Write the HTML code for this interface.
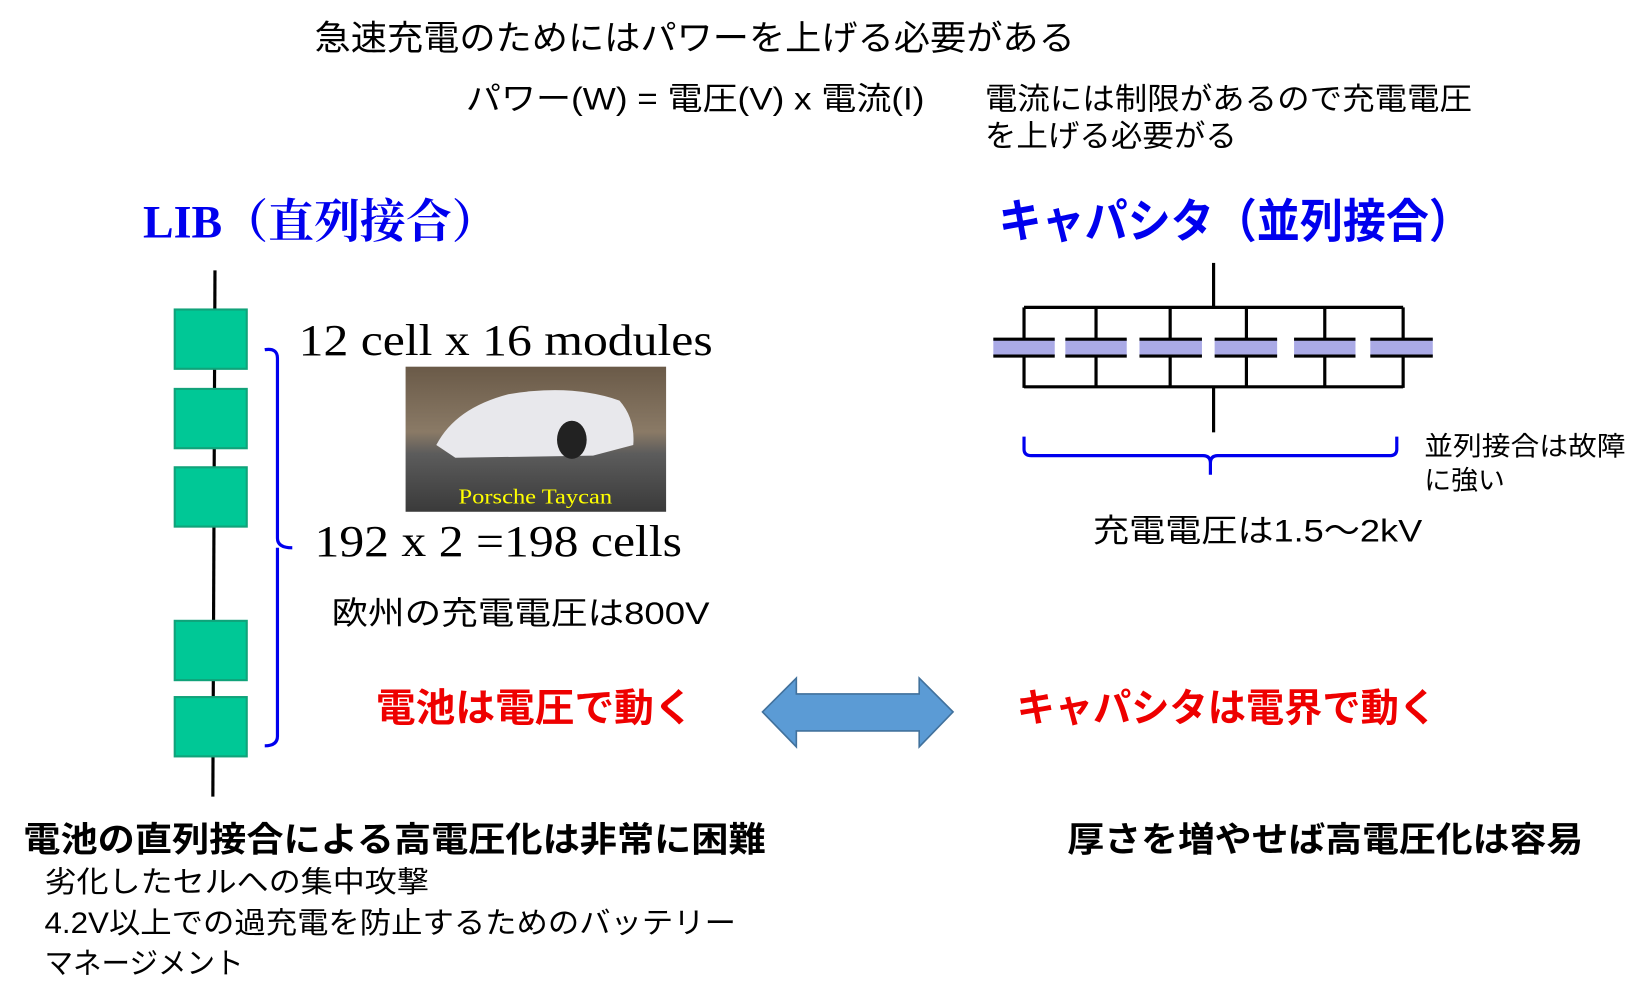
<!DOCTYPE html>
<html><head><meta charset="utf-8"><style>
html,body{margin:0;padding:0;background:#fff;width:1652px;height:996px;overflow:hidden}
svg{display:block}
.jp{font-family:"Liberation Sans","Noto Sans CJK JP",sans-serif}
.se{font-family:"Liberation Serif","Noto Serif CJK SC",serif}
</style></head><body>
<svg width="1652" height="996" viewBox="0 0 1560 940" xmlns="http://www.w3.org/2000/svg">
<defs>
<linearGradient id="bg" x1="0" y1="0" x2="0" y2="1">
<stop offset="0" stop-color="#6a5a48"/><stop offset="0.45" stop-color="#8a7a66"/><stop offset="0.6" stop-color="#5c5c5c"/><stop offset="1" stop-color="#3a3a3a"/>
</linearGradient>
</defs>
<g class="jp" fill="#000">
<text x="297" y="47" font-size="33" textLength="718" lengthAdjust="spacingAndGlyphs">急速充電のためにはパワーを上げる必要がある</text>
<text x="440" y="103" font-size="30" textLength="433" lengthAdjust="spacingAndGlyphs">パワー(W) = 電圧(V) x 電流(I)</text>
<text x="930" y="103" font-size="29" textLength="460" lengthAdjust="spacingAndGlyphs">電流には制限があるので充電電圧</text>
<text x="930" y="138" font-size="29" textLength="238" lengthAdjust="spacingAndGlyphs">を上げる必要がる</text>
</g>
<text x="135" y="224" font-size="44" font-weight="bold" fill="#0000ee" class="se" textLength="335" lengthAdjust="spacingAndGlyphs">LIB（直列接合）</text>
<text x="943" y="224" font-size="44" font-weight="bold" fill="#0000ee" class="jp" textLength="447" lengthAdjust="spacingAndGlyphs">キャパシタ（並列接合）</text>
<!-- LIB chain -->
<line x1="203" y1="255" x2="201" y2="752" stroke="#000" stroke-width="3"/>
<g fill="#00c896" stroke="#10a37a" stroke-width="2">
<rect x="165" y="292" width="68" height="56"/>
<rect x="165" y="367" width="68" height="56"/>
<rect x="165" y="441" width="68" height="56"/>
<rect x="165" y="586" width="68" height="56"/>
<rect x="165" y="658" width="68" height="56"/>
</g>
<path d="M250 330 Q262 328 262 338 L262 508 Q262 517 276 517 M262 517 Q262 526 262 530 L262 695 Q262 704 250 704" fill="none" stroke="#0000ee" stroke-width="3"/>
<g class="se" fill="#000">
<text x="282" y="335" font-size="42" textLength="391" lengthAdjust="spacingAndGlyphs">12 cell x 16 modules</text>
<text x="297" y="525" font-size="42" textLength="347" lengthAdjust="spacingAndGlyphs">192 x 2 =198 cells</text>
</g>
<rect x="383" y="346" width="246" height="137" fill="url(#bg)"/>
<path d="M412 420 Q430 385 480 372 Q540 362 585 378 Q600 395 598 420 L560 430 L430 432 Z" fill="#e8e8ec"/>
<ellipse cx="540" cy="415" rx="14" ry="18" fill="#222"/>
<text x="433" y="475" font-size="20" fill="#ffff00" class="se" textLength="145" lengthAdjust="spacingAndGlyphs">Porsche  Taycan</text>
<text x="313" y="589" font-size="30" class="jp" textLength="357" lengthAdjust="spacingAndGlyphs">欧州の充電電圧は800V</text>
<text x="355" y="681" font-size="37" font-weight="bold" fill="#ee0000" class="jp" textLength="300" lengthAdjust="spacingAndGlyphs">電池は電圧で動く</text>
<text x="960" y="681" font-size="37" font-weight="bold" fill="#ee0000" class="jp" textLength="397" lengthAdjust="spacingAndGlyphs">キャパシタは電界で動く</text>
<polygon points="720,672 752,640 752,655 868,655 868,640 900,672 868,705 868,690 752,690 752,705" fill="#5b9bd5" stroke="#41719c" stroke-width="1.5"/>
<!-- capacitors -->
<g stroke="#000" stroke-width="3" fill="none">
<line x1="1146" y1="248" x2="1146" y2="290"/>
<line x1="967" y1="290" x2="1325" y2="290"/>
<line x1="967" y1="365" x2="1325" y2="365"/>
<line x1="1146" y1="365" x2="1146" y2="408"/>
</g>
<g fill="#aaaae6">
<rect x="938" y="320" width="58" height="16"/><rect x="1006" y="320" width="58" height="16"/><rect x="1076" y="320" width="59" height="16"/><rect x="1147" y="320" width="59" height="16"/><rect x="1222" y="320" width="58" height="16"/><rect x="1294" y="320" width="59" height="16"/>
</g>
<g stroke="#000" stroke-width="3">
<path d="M967 290V320M967 336V366M1035 290V320M1035 336V366M1105 290V320M1105 336V366M1177 290V320M1177 336V366M1251 290V320M1251 336V366M1325 290V320M1325 336V366"/>
<path d="M938 320h58M938 336h58M1006 320h58M1006 336h58M1076 320h59M1076 336h59M1147 320h59M1147 336h59M1222 320h58M1222 336h58M1294 320h59M1294 336h59"/>
</g>
<path d="M967 412 L967 424 Q967 430 974 430 L1136 430 Q1143 430 1143 437 L1143 448 M1143 437 Q1143 430 1150 430 L1312 430 Q1319 430 1319 424 L1319 412" fill="none" stroke="#0000ee" stroke-width="3"/>
<g class="jp" fill="#000">
<text x="1345" y="430" font-size="25" textLength="190" lengthAdjust="spacingAndGlyphs">並列接合は故障</text>
<text x="1345" y="462" font-size="25" textLength="76" lengthAdjust="spacingAndGlyphs">に強い</text>
<text x="1032" y="511" font-size="30" textLength="311" lengthAdjust="spacingAndGlyphs">充電電圧は1.5～2kV</text>
<text x="22" y="804" font-size="33" font-weight="bold" textLength="701" lengthAdjust="spacingAndGlyphs">電池の直列接合による高電圧化は非常に困難</text>
<text x="1008" y="804" font-size="33" font-weight="bold" textLength="487" lengthAdjust="spacingAndGlyphs">厚さを増やせば高電圧化は容易</text>
<text x="42" y="842" font-size="28" textLength="363" lengthAdjust="spacingAndGlyphs">劣化したセルへの集中攻撃</text>
<text x="42" y="881" font-size="28" textLength="653" lengthAdjust="spacingAndGlyphs">4.2V以上での過充電を防止するためのバッテリー</text>
<text x="42" y="919" font-size="28" textLength="188" lengthAdjust="spacingAndGlyphs">マネージメント</text>
</g>
</svg>
</body></html>
